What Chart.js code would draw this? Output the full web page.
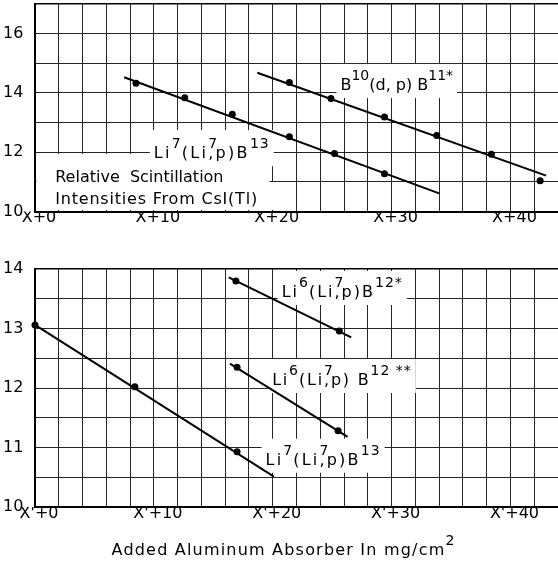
<!DOCTYPE html>
<html>
<head>
<meta charset="utf-8">
<script src="https://cdn.jsdelivr.net/npm/chart.js@4.4.0/dist/chart.umd.min.js"></script>
<style>
  html, body { margin: 0; padding: 0; background: #fff; overflow: hidden; }
  .panel { position: absolute; left: 0; }
  #topPanel { top: 0; }
  #bottomPanel { top: 240px; }
</style>
</head>
<body>
<div class="panel" id="topPanel"><canvas id="topChart" width="562" height="240"></canvas></div>
<div class="panel" id="bottomPanel"><canvas id="bottomChart" width="562" height="322"></canvas></div>
<script>
// upper panel (X + absorber)
const topXTicks = ['X+0', 'X+10', 'X+20', 'X+30', 'X+40'];
const topYTicks = [10, 12, 14, 16];
const liLiTopX = [8.5, 12.6, 16.6, 21.4, 25.2, 29.4];
const liLiTopY = [14.33, 13.84, 13.28, 12.52, 11.96, 11.27];
const liLiTopFitX = [7.5, 34.0];
const liLiTopFitY = [14.53, 10.61];
const boronX = [21.4, 24.9, 29.4, 33.8, 38.4, 42.5];
const boronY = [14.35, 13.81, 13.19, 12.56, 11.93, 11.04];
const boronFitX = [18.7, 43.0];
const boronFitY = [14.68, 11.21];

// lower panel (X' + absorber)
const bottomXTicks = ["X'+0", "X'+10", "X'+20", "X'+30", "X'+40"];
const bottomYTicks = [10, 11, 12, 13, 14];
const liLiBotX = [0, 8.4, 17.0];
const liLiBotY = [13.06, 12.02, 10.93];
const liLiBotFitX = [0, 20.1];
const liLiBotFitY = [13.06, 10.51];
const li6StarX = [16.9, 25.6];
const li6StarY = [13.80, 12.96];
const li6StarFitX = [16.3, 26.6];
const li6StarFitY = [13.86, 12.85];
const li6TwoStarX = [17.0, 25.5];
const li6TwoStarY = [12.35, 11.28];
const li6TwoStarFitX = [16.4, 26.3];
const li6TwoStarFitY = [12.41, 11.18];

const FONT = '"DejaVu Sans", sans-serif';
const BASE_FONT = '16px ' + FONT;
const SUP_FONT = '14px ' + FONT;
const GRID = '#262626';

function pairs(xs, ys) {
    return xs.map((x, i) => ({ x: x, y: ys[i] }));
}

function dots(xs, ys) {
    return { data: pairs(xs, ys), showLine: false, pointRadius: 3.5, pointBackgroundColor: '#000', pointBorderWidth: 0, clip: false };
}

function fit(xs, ys) {
    return { data: pairs(xs, ys), showLine: true, borderColor: '#000', borderWidth: 2, pointRadius: 0, clip: false };
}

// parts: [text, kind] kind 0 = normal, 1 = superscript, 2 = superscript without advance
function drawRich(ctx, parts, x, y, draw, ls) {
    let cx = x;
    parts.forEach(([t, kind]) => {
        ctx.font = kind ? SUP_FONT : BASE_FONT;
        ctx.letterSpacing = (kind ? Math.min(ls || 0, 1) : (ls || 0)) + 'px';
        const w = ctx.measureText(t).width;
        if (draw) ctx.fillText(t, cx, kind ? y - 10 : y);
        if (kind !== 2) cx += w;
    });
    ctx.letterSpacing = '0px';
    return cx - x;
}

// text written into the plot, with a white patch cut out of the grid behind it
const notesPlugin = {
    id: 'notes',
    beforeDatasetsDraw(chart, args, opts) {
        const { ctx, chartArea: a, scales: { x, y } } = chart;
        ctx.save();
        ctx.beginPath();
        ctx.rect(a.left + 1.5, a.top + 1.5, a.width - 3, a.height - 3);
        ctx.clip();
        ctx.fillStyle = '#fff';
        opts.notes.forEach(n => {
            const px = x.getPixelForValue(n.x), py = y.getPixelForValue(n.y);
            const w = drawRich(ctx, n.parts, px, py, false, n.ls);
            const p = n.pad || [4, 4, 4, 4];
            ctx.fillRect(px - p[0], py - 22 - p[1], w + p[0] + p[2], 26 + p[1] + p[3]);
        });
        ctx.restore();
        ctx.save();
        ctx.fillStyle = '#000';
        ctx.textBaseline = 'alphabetic';
        opts.notes.forEach(n => {
            drawRich(ctx, n.parts, x.getPixelForValue(n.x), y.getPixelForValue(n.y), true, n.ls);
        });
        if (opts.title) {
            const w = drawRich(ctx, opts.title, 0, 0, false, 1.2);
            drawRich(ctx, opts.title, x.getPixelForValue(opts.titleX) - w / 2, a.bottom + 48, true, 1.2);
        }
        ctx.restore();
    }
};

function panel(canvasId, datasets, xLabels, yMax, yStep, yLabels, padTop, axisHeight, notes, title) {
    return new Chart(document.getElementById(canvasId), {
        type: 'scatter',
        data: { datasets: datasets },
        options: {
            responsive: false,
            animation: false,
            layout: { padding: { top: padTop, right: 1, left: 3, bottom: 0 } },
            plugins: {
                legend: { display: false },
                tooltip: { enabled: false },
                notes: { notes: notes, title: title, titleX: 20.9 }
            },
            scales: {
                x: {
                    type: 'linear', min: 0, max: 44,
                    afterFit: s => { s.height = axisHeight; s.paddingLeft = 0; s.paddingRight = 0; },
                    ticks: {
                        stepSize: 2, autoSkip: false, maxRotation: 0, padding: -3, labelOffset: 4,
                        color: '#000', font: { family: FONT, size: 16 },
                        callback: v => (v % 10 === 0 ? xLabels[v / 10] : '')
                    },
                    grid: { color: GRID, lineWidth: 1, drawTicks: false },
                    border: { color: '#000', width: 2 }
                },
                y: {
                    type: 'linear', min: 10, max: yMax,
                    afterFit: s => { s.width = 32; s.paddingTop = 0; s.paddingBottom = 0; },
                    ticks: {
                        stepSize: yStep, autoSkip: false, crossAlign: 'far', padding: 0,
                        color: '#000', font: { family: FONT, size: 16 },
                        callback: v => (yLabels.includes(v) ? String(v) : '')
                    },
                    grid: {
                        drawTicks: false,
                        color: c => (c.tick && c.tick.value === yMax ? '#000' : GRID),
                        lineWidth: c => (c.tick && c.tick.value === yMax ? 1.5 : 1)
                    },
                    border: { color: '#000', width: 2 }
                }
            }
        },
        plugins: [notesPlugin]
    });
}

document.addEventListener('DOMContentLoaded', function () {
    panel('topChart', [
        fit(liLiTopFitX, liLiTopFitY), dots(liLiTopX, liLiTopY),
        fit(boronFitX, boronFitY), dots(boronX, boronY)
    ], topXTicks, 17, 1, topYTicks, 4, 28.5, [
        { parts: [['B', 0], ['10', 1], ['(d, p) B', 0], ['11*', 1]], x: 25.7, y: 14.1 },
        { parts: [['Li', 0], ['7', 1], ['(Li', 0], ['7', 2], [',p)B', 0], ['13', 1]], x: 10.0, y: 11.8, ls: 2.3, pad: [4, 6, 4, 4] },
        { parts: [['Relative  Scintillation', 0]], x: 1.7, y: 11.0, pad: [20, 6, 46, 0] },
        { parts: [['Intensities From CsI(Tl)', 0]], x: 1.7, y: 10.25, ls: 0.8, pad: [20, 0, 16, 10] }
    ], null);

    panel('bottomChart', [
        fit(liLiBotFitX, liLiBotFitY), dots(liLiBotX, liLiBotY),
        fit(li6StarFitX, li6StarFitY), dots(li6StarX, li6StarY),
        fit(li6TwoStarFitX, li6TwoStarFitY), dots(li6TwoStarX, li6TwoStarY)
    ], bottomXTicks, 14, 0.5, bottomYTicks, 29, 55, [
        { parts: [['Li', 0], ['6', 1], ['(Li', 0], ['7', 2], [',p)B', 0], ['12*', 1]], x: 20.75, y: 13.53, ls: 2 },
        { parts: [['Li', 0], ['6', 1], ['(Li', 0], ['7', 2], [',p) B', 0], ['12 **', 1]], x: 19.95, y: 12.05, ls: 1.8 },
        { parts: [['Li', 0], ['7', 1], ['(Li', 0], ['7', 2], [',p)B', 0], ['13', 1]], x: 19.4, y: 10.71, ls: 2.2 }
    ], [['Added Aluminum Absorber In mg/cm', 0], ['2', 1]]);
});
</script>
</body>
</html>
